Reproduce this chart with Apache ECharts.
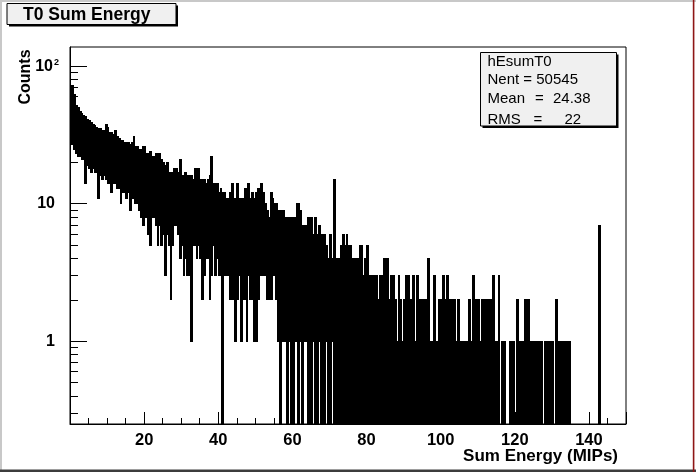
<!DOCTYPE html>
<html>
<head>
<meta charset="utf-8">
<script src="https://cdn.jsdelivr.net/npm/echarts@6/dist/echarts.min.js"></script>
<style>
html,body{margin:0;padding:0;background:#fff;}
#chart{width:696px;height:472px;}
</style>
</head>
<body>
<div id="chart"></div>
<script>
// ---- data: per 0.5-MIP column, min and max bin content ----
const binWidth = 0.5;
const colHigh = [
  70,73,62,52,50,47,45,44,43,41,
  40,39,38,37,36,35,35,34,34,38,
  36,33,33,32,34,31,30,29,29,28,
  28,28,27,28,31,26,26,25,25,26,
  26,23,23,24,22,22,23,21,23,21,
  20,19,20,17,17,17,18,18,17,21,
  16,16,17,16,16,16,15,18,15,18,
  15,15,15,14,15,16,22,14,14,14,
  12,13,12,12,11,11,12,14,11,11,
  14,11,11,11,13,11,14,11,12,11,
  12,13,12,14,12,10,9,8,12,11,
  10,10,9,9,9,9,8,8,8,8,
  8,8,10,10,9,7,7,7,8,7,
  8,6,8,6,7,6,6,6,5,4,
  6,4,15,4,4,4,5,6,5,6,
  5,5,4,4,4,4,5,5,3,4,
  5,3,3,3,3,3,2,3,3,4,
  3,4,2,3,3,2,1,3,2,1,
  2,3,3,2,2,3,1,3,2,2,
  2,2,2,4,1,1,3,1,1,2,
  2,3,2,3,2,2,2,2,1,2,
  1,1,1,1,1,2,1,3,1,2,
  2,1,2,2,2,2,2,2,3,1,
  1,3,0,1,1,0,0,1,0,1,
  0,2,1,1,1,2,2,2,1,1,
  1,1,1,1,1,0,1,1,1,0,
  1,0,2,1,1,0,1,1,1,1,
  0,0,0,0,0,0,0,0,0,0,
  0,0,0,0,0,7,0,0,0,0,
  0,0,0,0,0,0,0,0,0,0
];
const colLow = [
  30,27,25,23,22,22,21,21,14,19,
  18,17,18,17,17,11,16,15,16,15,
  14,14,12,14,14,13,13,10,12,12,
  11,12,9,11,11,10,10,9,8,7,
  9,8,6,5,8,8,7,5,7,5,
  6,3,6,5,2,5,7,7,6,4,
  5,3,4,3,3,1,5,5,4,5,
  4,2,3,4,4,2,3,5,3,4,
  3,3,0,3,3,3,2,2,2,1,
  2,3,1,2,2,1,3,2,2,1,
  1,2,3,3,3,3,2,2,2,3,
  3,2,1,0,1,1,1,0,1,0,
  0,1,1,0,1,0,1,1,0,1,
  0,1,0,0,1,0,1,0,1,0,
  0,1,0,0,0,0,0,0,0,0,
  0,0,0,0,0,0,0,0,0,0,
  0,0,0,0,0,0,0,0,0,0,
  0,0,0,0,0,0,0,0,0,0,
  0,0,0,0,0,0,0,0,0,0,
  0,0,0,0,0,0,0,0,0,0,
  0,0,0,0,0,0,0,0,0,0,
  0,0,0,0,0,0,0,0,0,0,
  0,0,0,0,0,0,0,0,0,0,
  0,0,0,0,0,0,0,0,0,0,
  0,0,0,0,0,0,0,0,0,0,
  0,0,0,0,0,0,0,0,0,0,
  0,0,0,0,0,0,0,0,0,0,
  0,0,0,0,0,0,0,0,0,0,
  0,0,0,0,0,0,0,0,0,0,
  0,0,0,0,0,0,0,0,0,0
];
const xRange = [0, 150];
const xMajorStep = 20;
const xMinorStep = 5;
const xTickLabels = [20, 40, 60, 80, 100, 120, 140];
const yRange = [0.25, 138];
const yMajorTicks = [1, 10, 100];
const yTickLabels = ['1', '10', '10^2'];
const yMinorTicks = [0.3,0.4,0.5,0.6,0.7,0.8,0.9,2,3,4,5,6,7,8,9,20,30,40,50,60,70,80,90];
const histTitle = 'T0 Sum Energy';
const xTitle = 'Sum Energy (MIPs)';
const yTitle = 'Counts';
const statName = 'hEsumT0';
const statNent = '50545';
const statMean = '24.38';
const statRms = '22';

// ---- build ----
const L = Math.log10;
const yMinL = L(yRange[0]), yMaxL = L(yRange[1]);
const cols = [];
for (let k = 0; k < colHigh.length; k++) {
  if (colHigh[k] <= 0) continue;
  const lo = colLow[k] > 0 ? L(colLow[k]) : yMinL;
  cols.push([k * binWidth, (k + 1) * binWidth, lo, L(colHigh[k])]);
}
const FONT = '"Liberation Sans", Arial, Helvetica, sans-serif';

function yLabel(v) {
  let idx = -1;
  for (let i = 0; i < yMajorTicks.length; i++) if (Math.abs(L(yMajorTicks[i]) - v) < 1e-6) idx = i;
  if (idx < 0) return '';
  const t = yTickLabels[idx];
  if (t.indexOf('^') >= 0) { const p = t.split('^'); return '{b|' + p[0] + '}{s|' + p[1] + '}'; }
  return '{p|' + t + '}';
}
function xLabel(v) {
  return xTickLabels.indexOf(Math.round(v)) >= 0 ? String(Math.round(v)) : '';
}

const chart = echarts.init(document.getElementById('chart'), null, {renderer: 'canvas'});
chart.setOption({
  backgroundColor: '#fff',
  animation: false,
  grid: {left: 70, right: 70, top: 47, bottom: 48, show: true, borderColor: '#000', borderWidth: 1, backgroundColor: 'transparent', containLabel: false, outerBoundsMode: 'none'},
  xAxis: [
    {type: 'value', min: xRange[0], max: xRange[1], interval: xMajorStep, position: 'bottom', z: 10,
     axisLine: {show: true, onZero: false, lineStyle: {color: '#000', width: 1}},
     axisTick: {show: true, inside: true, length: 12, lineStyle: {color: '#000', width: 1}},
     axisLabel: {show: true, margin: 8, formatter: xLabel, showMinLabel: true, showMaxLabel: true, hideOverlap: false,
       color: '#000', fontFamily: FONT, fontWeight: 'bold', fontSize: 16.5},
     splitLine: {show: false}},
    {type: 'value', min: xRange[0], max: xRange[1], interval: xMinorStep, position: 'bottom', z: 10, offset: 0,
     axisLine: {show: false, onZero: false},
     axisTick: {show: true, inside: true, length: 6, lineStyle: {color: '#000', width: 1}},
     axisLabel: {show: false}, splitLine: {show: false}}
  ],
  yAxis: [
    {type: 'value', min: yMinL, max: yMaxL, position: 'left', z: 10,
     axisLine: {show: true, onZero: false, lineStyle: {color: '#000', width: 1}},
     axisTick: {show: true, inside: true, length: 17, customValues: yMajorTicks.map(L), lineStyle: {color: '#000', width: 1}},
     axisLabel: {show: true, customValues: yMajorTicks.map(L), margin: 11, formatter: yLabel, color: '#000',
       rich: {
         p: {fontFamily: FONT, fontWeight: 'bold', fontSize: 16, color: '#000', padding: [0, 4, 0, 0]},
         b: {fontFamily: FONT, fontWeight: 'bold', fontSize: 16, color: '#000'},
         s: {fontFamily: FONT, fontWeight: 'bold', fontSize: 9, color: '#000', verticalAlign: 'top', padding: [0, 0, 8, 1]}
       }},
     splitLine: {show: false}},
    {type: 'value', min: yMinL, max: yMaxL, position: 'left', z: 10,
     axisLine: {show: false, onZero: false},
     axisTick: {show: true, inside: true, length: 8, customValues: yMinorTicks.map(L), lineStyle: {color: '#000', width: 1}},
     axisLabel: {show: false}, splitLine: {show: false}}
  ],
  series: [{
    type: 'custom',
    xAxisIndex: 0, yAxisIndex: 0,
    clip: true,
    z: 2,
    data: cols,
    encode: {x: [0, 1], y: [2, 3]},
    renderItem: function (params, api) {
      const x0 = api.value(0), x1 = api.value(1), lo = api.value(2), hi = api.value(3);
      const pTop = api.coord([x0, hi]);
      const pBot = api.coord([x1, lo]);
      const left = Math.floor(pTop[0]);
      const right = Math.max(Math.ceil(pBot[0]), left + 1);
      const top = Math.floor(pTop[1]);
      const bottom = Math.max(Math.ceil(pBot[1]), top + 1);
      return {
        type: 'rect',
        shape: {x: left, y: top, width: right - left, height: bottom - top},
        style: {fill: '#000', stroke: null}
      };
    }
  }],
  graphic: [
    // canvas bevel
    {type: 'rect', shape: {x: 0, y: 0, width: 696, height: 2}, style: {fill: '#c8c8c8'}, silent: true},
    {type: 'rect', shape: {x: 0, y: 0, width: 2, height: 472}, style: {fill: '#c8c8c8'}, silent: true},
    {type: 'rect', shape: {x: 0, y: 469.5, width: 696, height: 2.5}, style: {fill: '#3c3c3c'}, silent: true},
    {type: 'rect', shape: {x: 692.8, y: 0, width: 1.6, height: 472}, style: {fill: '#8e1616'}, silent: true},
    // title box
    {type: 'rect', shape: {x: 9, y: 5.5, width: 169, height: 21}, style: {fill: '#000'}, silent: true},
    {type: 'rect', shape: {x: 7, y: 3.5, width: 169, height: 21}, style: {fill: '#f0f0f0', stroke: '#000', lineWidth: 1}, silent: true},
    {type: 'text', x: 23, y: 15, style: {text: histTitle, fill: '#000', font: 'bold 17.5px ' + FONT, align: 'left', verticalAlign: 'middle'}, silent: true},
    // stats box
    {type: 'rect', shape: {x: 482.5, y: 54.5, width: 136, height: 73.5}, style: {fill: '#000'}, silent: true},
    {type: 'rect', shape: {x: 480.5, y: 52.5, width: 136, height: 73.5}, style: {fill: '#f0f0f0', stroke: '#000', lineWidth: 1}, silent: true},
    {type: 'text', x: 487.5, y: 61.5, style: {text: statName, fill: '#000', font: '15px ' + FONT, verticalAlign: 'middle'}, silent: true},
    {type: 'text', x: 487.5, y: 80, style: {text: 'Nent = ' + statNent, fill: '#000', font: '15px ' + FONT, verticalAlign: 'middle'}, silent: true},
    {type: 'text', x: 487.5, y: 99, style: {text: 'Mean', fill: '#000', font: '15px ' + FONT, verticalAlign: 'middle'}, silent: true},
    {type: 'text', x: 539.5, y: 99, style: {text: '=', fill: '#000', font: '15px ' + FONT, align: 'center', verticalAlign: 'middle'}, silent: true},
    {type: 'text', x: 553, y: 99, style: {text: statMean, fill: '#000', font: '15px ' + FONT, verticalAlign: 'middle'}, silent: true},
    {type: 'text', x: 487.5, y: 119.5, style: {text: 'RMS', fill: '#000', font: '15px ' + FONT, verticalAlign: 'middle'}, silent: true},
    {type: 'text', x: 538, y: 119.5, style: {text: '=', fill: '#000', font: '15px ' + FONT, align: 'center', verticalAlign: 'middle'}, silent: true},
    {type: 'text', x: 564.5, y: 119.5, style: {text: statRms, fill: '#000', font: '15px ' + FONT, verticalAlign: 'middle'}, silent: true},
    // axis titles
    {type: 'text', x: 618, y: 456, style: {text: xTitle, fill: '#000', font: 'bold 17px ' + FONT, align: 'right', verticalAlign: 'middle'}, silent: true},
    {type: 'text', x: 26, y: 77, rotation: Math.PI / 2, style: {text: yTitle, fill: '#000', font: 'bold 16px ' + FONT, align: 'center', verticalAlign: 'middle'}, silent: true}
  ]
});
</script>
</body>
</html>
